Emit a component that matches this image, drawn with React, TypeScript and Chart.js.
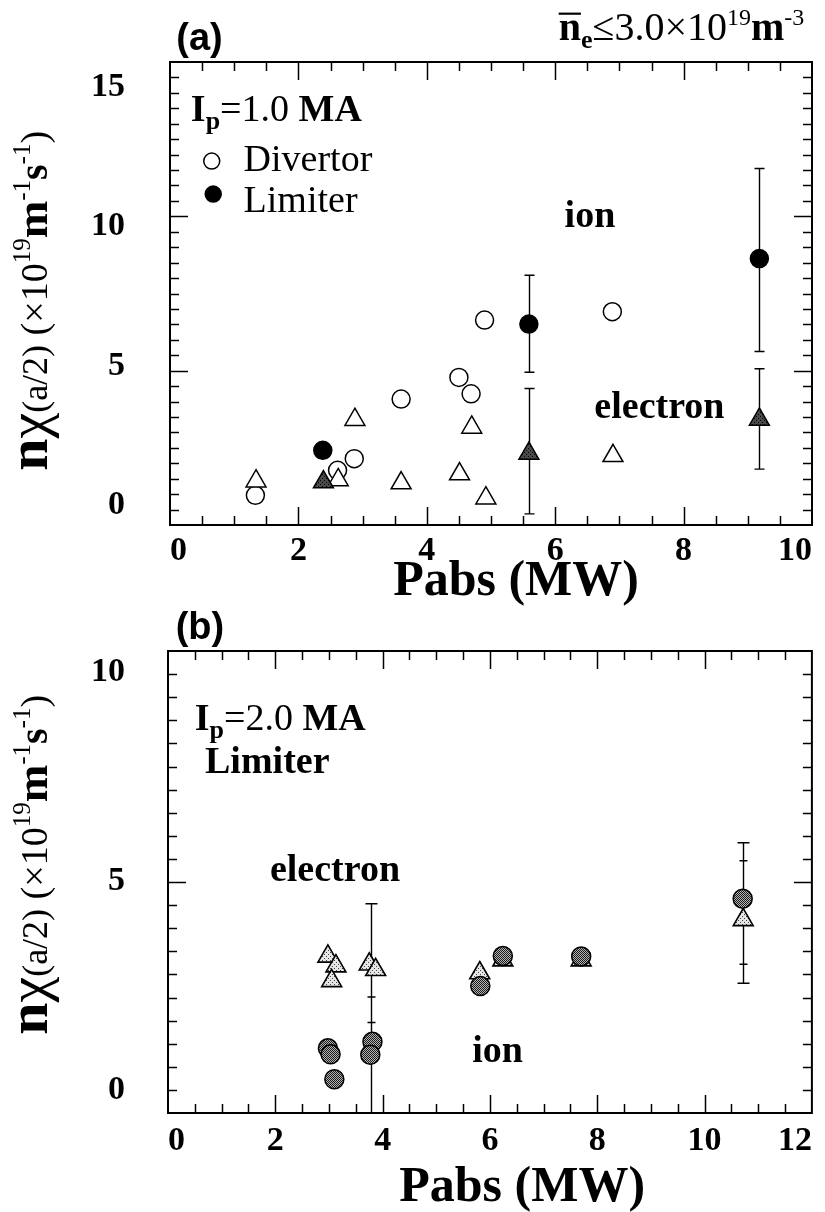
import React, { useEffect, useRef } from 'react';
import { Chart, registerables } from 'chart.js';

Chart.register(...registerables);

// ---------- Panel (a) data ----------
const aDivIonX = [1.33, 2.61, 2.87, 3.6, 4.5, 4.69, 4.9, 6.89];
const aDivIonY = [0.96, 1.77, 2.15, 4.08, 4.78, 4.25, 6.64, 6.91];
const aLimIonX = [2.38, 5.59, 9.18];
const aLimIonY = [2.42, 6.51, 8.63];
const aDivEleX = [1.34, 2.62, 2.88, 3.6, 4.51, 4.7, 4.92, 6.9];
const aDivEleY = [1.42, 1.46, 3.41, 1.36, 1.65, 3.16, 0.87, 2.24];
const aLimEleX = [2.39, 5.59, 9.18];
const aLimEleY = [1.39, 2.32, 3.42];
const aErrX = [5.59, 9.18, 5.59, 9.18];
const aErrLo = [4.95, 5.62, 0.36, 1.81];
const aErrHi = [8.09, 11.55, 4.42, 5.06];
const aXTicks = [0, 2, 4, 6, 8, 10];
const aYTicks = [0, 5, 10, 15];

// ---------- Panel (b) data ----------
const bIonX = [2.98, 3.03, 3.1, 3.81, 3.77, 5.82, 6.24, 7.7, 10.71];
const bIonY = [1.4, 1.27, 0.73, 1.54, 1.26, 2.75, 3.4, 3.39, 4.64];
const bEleX = [2.98, 3.13, 3.05, 3.75, 3.87, 5.81, 6.24, 7.7, 10.72];
const bEleY = [3.39, 3.18, 2.86, 3.22, 3.1, 3.03, 3.31, 3.31, 4.18];
const bErrBigX = [3.79, 10.71];
const bErrBigLo = [0, 2.81];
const bErrBigHi = [4.53, 5.85];
const bErrSmallX = [3.79, 10.71];
const bErrSmallLo = [1.96, 3.22];
const bErrSmallHi = [2.51, 5.46];
const bXTicks = [0, 2, 4, 6, 8, 10, 12];
const bYTicks = [0, 5, 10];

const SERIF = '"Liberation Serif", "Times New Roman", serif';
const SANS = '"Liberation Sans", Arial, sans-serif';

const zip = (xs: number[], ys: number[]) => xs.map((x, i) => ({ x, y: ys[i] }));

type Run = { t: string; f: string; dy?: number; over?: boolean };
type Note = { x: number; y: number; runs: Run[]; align?: 'left' | 'center' | 'right'; rot?: boolean };
type Mark = { x: number; y: number; r: number; fill: string };

function makePattern(bg: string, fg: string, kind: 'hatch' | 'dots'): CanvasPattern | string {
  const c = document.createElement('canvas');
  c.width = 4;
  c.height = 4;
  const g = c.getContext('2d');
  if (!g) return bg;
  g.fillStyle = bg;
  g.fillRect(0, 0, 4, 4);
  g.fillStyle = fg;
  if (kind === 'hatch') {
    for (let i = 0; i < 4; i++) {
      g.fillRect(i, i, 1, 1);
      g.fillRect((i + 2) % 4, i, 1, 1);
    }
  } else {
    g.fillRect(0, 0, 1, 1);
    g.fillRect(2, 2, 1, 1);
  }
  return g.createPattern(c, 'repeat') || bg;
}

function framePlugin(cfg: { xMinor: number; xMajor: number; yMinor: number; yMajor: number; major: number; minor: number }) {
  return {
    id: 'frameTicks',
    beforeDatasetsDraw(chart: any) {
      const { ctx, chartArea: a, scales } = chart;
      const xs = scales.x;
      const ys = scales.y;
      ctx.save();
      ctx.strokeStyle = '#000';
      ctx.lineWidth = 1.5;
      ctx.beginPath();
      const nx = Math.round((xs.max - xs.min) / cfg.xMinor);
      for (let i = 1; i < nx; i++) {
        const v = xs.min + i * cfg.xMinor;
        const maj = Math.abs(v / cfg.xMajor - Math.round(v / cfg.xMajor)) < 1e-6;
        const L = maj ? cfg.major : cfg.minor;
        const p = Math.round(xs.getPixelForValue(v)) + 0.5;
        ctx.moveTo(p, a.bottom);
        ctx.lineTo(p, a.bottom - L);
        ctx.moveTo(p, a.top);
        ctx.lineTo(p, a.top + L);
      }
      const ny = Math.round((ys.max - ys.min) / cfg.yMinor);
      for (let i = 1; i < ny; i++) {
        const v = ys.min + i * cfg.yMinor;
        const maj = Math.abs(v / cfg.yMajor - Math.round(v / cfg.yMajor)) < 1e-6;
        const L = maj ? cfg.major : cfg.minor;
        const p = Math.round(ys.getPixelForValue(v)) + 0.5;
        ctx.moveTo(a.left, p);
        ctx.lineTo(a.left + L, p);
        ctx.moveTo(a.right, p);
        ctx.lineTo(a.right - L, p);
      }
      ctx.stroke();
      ctx.lineWidth = 2;
      ctx.strokeRect(a.left, a.top, a.right - a.left, a.bottom - a.top);
      ctx.restore();
    },
  };
}

function errorPlugin(groups: { x: number[]; lo: number[]; hi: number[]; cap: number }[]) {
  return {
    id: 'errBars',
    beforeDatasetsDraw(chart: any) {
      const { ctx, chartArea: a, scales } = chart;
      ctx.save();
      ctx.beginPath();
      ctx.rect(a.left, a.top, a.right - a.left, a.bottom - a.top);
      ctx.clip();
      ctx.strokeStyle = '#000';
      ctx.lineWidth = 1.4;
      ctx.beginPath();
      groups.forEach((g) => {
        g.x.forEach((xv, i) => {
          const px = Math.round(scales.x.getPixelForValue(xv)) + 0.5;
          const pl = scales.y.getPixelForValue(g.lo[i]);
          const ph = scales.y.getPixelForValue(g.hi[i]);
          ctx.moveTo(px, pl);
          ctx.lineTo(px, ph);
          ctx.moveTo(px - g.cap, pl);
          ctx.lineTo(px + g.cap, pl);
          ctx.moveTo(px - g.cap, ph);
          ctx.lineTo(px + g.cap, ph);
        });
      });
      ctx.stroke();
      ctx.restore();
    },
  };
}

function notesPlugin(notes: Note[], marks: Mark[]) {
  return {
    id: 'notes',
    afterDraw(chart: any) {
      const { ctx, scales } = chart;
      ctx.save();
      ctx.fillStyle = '#000';
      ctx.strokeStyle = '#000';
      marks.forEach((m) => {
        const px = scales.x.getPixelForValue(m.x);
        const py = scales.y.getPixelForValue(m.y);
        ctx.beginPath();
        ctx.arc(px, py, m.r, 0, Math.PI * 2);
        ctx.fillStyle = m.fill;
        ctx.fill();
        ctx.lineWidth = 1.5;
        ctx.stroke();
      });
      ctx.fillStyle = '#000';
      ctx.textBaseline = 'alphabetic';
      ctx.textAlign = 'left';
      notes.forEach((n) => {
        const px = scales.x.getPixelForValue(n.x);
        const py = scales.y.getPixelForValue(n.y);
        ctx.save();
        ctx.translate(px, py);
        if (n.rot) ctx.rotate(-Math.PI / 2);
        let total = 0;
        n.runs.forEach((r) => {
          ctx.font = r.f;
          total += ctx.measureText(r.t).width;
        });
        let cx = n.align === 'center' ? -total / 2 : n.align === 'right' ? -total : 0;
        n.runs.forEach((r) => {
          ctx.font = r.f;
          const w = ctx.measureText(r.t).width;
          ctx.fillText(r.t, cx, r.dy || 0);
          if (r.over) {
            const size = parseFloat(r.f.replace(/^[^0-9]*/, ''));
            ctx.lineWidth = 2.2;
            ctx.beginPath();
            ctx.moveTo(cx, -size * 0.66);
            ctx.lineTo(cx + w, -size * 0.66);
            ctx.stroke();
          }
          cx += w;
        });
        ctx.restore();
      });
      ctx.restore();
    },
  };
}

const tickFont = { family: SERIF, size: 34, weight: 'bold' as const };

function baseOptions(opts: {
  xMax: number;
  yMax: number;
  xTicks: number[];
  yTicks: number[];
  ylMin: number;
  ylMax: number;
  yAxisWidth: number;
  labelPad: number;
  xHeight: number;
  padTop: number;
  padRight: number;
  xLabelPad: number;
}) {
  return {
    responsive: false,
    animation: false as const,
    events: [],
    layout: { padding: { top: opts.padTop, right: opts.padRight, left: 0, bottom: 0 } },
    plugins: { legend: { display: false }, tooltip: { enabled: false } },
    scales: {
      x: {
        type: 'linear' as const,
        min: 0,
        max: opts.xMax,
        position: 'bottom' as const,
        grid: { display: false, drawTicks: false },
        border: { display: false },
        ticks: { font: tickFont, color: '#000', padding: opts.xLabelPad, align: 'inner' as const, maxRotation: 0, autoSkip: false },
        afterBuildTicks: (s: any) => {
          s.ticks = opts.xTicks.map((v) => ({ value: v }));
        },
        afterFit: (s: any) => {
          s.height = opts.xHeight;
          s.paddingLeft = 0;
          s.paddingRight = 0;
        },
        title: { display: false },
      },
      y: { type: 'linear' as const, display: false, min: 0, max: opts.yMax },
      yl: {
        type: 'linear' as const,
        position: 'left' as const,
        min: opts.ylMin,
        max: opts.ylMax,
        grid: { display: false, drawTicks: false },
        border: { display: false },
        ticks: { font: tickFont, color: '#000', padding: opts.labelPad, autoSkip: false },
        afterBuildTicks: (s: any) => {
          s.ticks = opts.yTicks.map((v) => ({ value: v }));
        },
        afterFit: (s: any) => {
          s.width = opts.yAxisWidth;
          s.paddingTop = 0;
          s.paddingBottom = 0;
        },
      },
    },
  };
}

const R = (s: number) => `${s}px ${SERIF}`;
const B = (s: number) => `bold ${s}px ${SERIF}`;

function yTitleRuns(): Run[] {
  return [
    { t: 'n', f: B(58) },
    { t: 'χ', f: R(58) },
    { t: '(a/2)', f: R(36) },
    { t: ' (×10', f: R(38) },
    { t: '19', f: R(25), dy: -17 },
    { t: 'm', f: B(45) },
    { t: '-1', f: R(25), dy: -17 },
    { t: 's', f: B(40) },
    { t: '-1', f: R(25), dy: -17 },
    { t: ')', f: R(38) },
  ];
}

export default function App() {
  const refA = useRef<HTMLCanvasElement>(null);
  const refB = useRef<HTMLCanvasElement>(null);

  useEffect(() => {
    if (!refA.current || !refB.current) return;
    const darkTri = makePattern('#4a4a4a', '#000', 'dots');
    const hatch = makePattern('#b4b4b4', '#1a1a1a', 'hatch');
    const dotTri = makePattern('#e6e6e6', '#444', 'dots');

    const notesA: Note[] = [
      { x: 0.46, y: 15.39, align: 'center', runs: [{ t: '(a)', f: `bold 38px ${SANS}` }] },
      {
        x: 9.88,
        y: 15.71,
        align: 'right',
        runs: [
          { t: 'n', f: B(40), over: true },
          { t: 'e', f: B(26), dy: 8 },
          { t: '≤3.0×10', f: R(40) },
          { t: '19', f: R(24), dy: -15 },
          { t: 'm', f: B(40) },
          { t: '-3', f: R(24), dy: -15 },
        ],
      },
      {
        x: 0.325,
        y: 13.09,
        runs: [
          { t: 'I', f: B(38) },
          { t: 'p', f: B(26), dy: 8 },
          { t: '=1.0 ', f: R(38) },
          { t: 'MA', f: B(38) },
        ],
      },
      { x: 1.146, y: 11.47, runs: [{ t: 'Divertor', f: R(38) }] },
      { x: 1.146, y: 10.14, runs: [{ t: 'Limiter', f: R(38) }] },
      { x: 6.146, y: 9.65, runs: [{ t: 'ion', f: B(38) }] },
      { x: 6.61, y: 3.47, runs: [{ t: 'electron', f: B(38) }] },
      { x: -1.92, y: 7.26, rot: true, align: 'center', runs: yTitleRuns() },
      { x: 5.39, y: -2.27, align: 'center', runs: [{ t: 'Pabs (MW)', f: B(50) }] },
    ];
    const marksA: Mark[] = [
      { x: 0.65, y: 11.79, r: 8, fill: '#fff' },
      { x: 0.673, y: 10.72, r: 8, fill: '#000' },
    ];

    const chartA = new Chart(refA.current, {
      type: 'scatter',
      data: {
        datasets: [
          {
            label: 'Limiter electron',
            data: zip(aLimEleX, aLimEleY),
            pointStyle: 'triangle',
            pointRadius: 11.5,
            pointBackgroundColor: darkTri as any,
            pointBorderColor: '#000',
            pointBorderWidth: 1.5,
            yAxisID: 'y',
          },
          {
            label: 'Limiter ion',
            data: zip(aLimIonX, aLimIonY),
            pointStyle: 'circle',
            pointRadius: 9,
            pointBackgroundColor: '#000',
            pointBorderColor: '#000',
            pointBorderWidth: 1.5,
            yAxisID: 'y',
          },
          {
            label: 'Divertor electron',
            data: zip(aDivEleX, aDivEleY),
            pointStyle: 'triangle',
            pointRadius: 11.5,
            pointBackgroundColor: '#fff',
            pointBorderColor: '#000',
            pointBorderWidth: 1.5,
            yAxisID: 'y',
          },
          {
            label: 'Divertor ion',
            data: zip(aDivIonX, aDivIonY),
            pointStyle: 'circle',
            pointRadius: 9,
            pointBackgroundColor: '#fff',
            pointBorderColor: '#000',
            pointBorderWidth: 1.5,
            yAxisID: 'y',
          },
        ],
      },
      options: baseOptions({
        xMax: 10,
        yMax: 15,
        xTicks: aXTicks,
        yTicks: aYTicks,
        ylMin: -0.715,
        ylMax: 15.91,
        yAxisWidth: 170,
        labelPad: 45,
        xHeight: 85,
        padTop: 62,
        padRight: 9,
        xLabelPad: 6,
      }) as any,
      plugins: [
        framePlugin({ xMinor: 0.5, xMajor: 2, yMinor: 0.5, yMajor: 5, major: 18, minor: 9 }),
        errorPlugin([{ x: aErrX, lo: aErrLo, hi: aErrHi, cap: 5 }]),
        notesPlugin(notesA, marksA),
      ],
    });

    const notesB: Note[] = [
      { x: 0.595, y: 10.26, align: 'center', runs: [{ t: '(b)', f: `bold 38px ${SANS}` }] },
      {
        x: 0.5,
        y: 8.29,
        runs: [
          { t: 'I', f: B(38) },
          { t: 'p', f: B(26), dy: 8 },
          { t: '=2.0 ', f: R(38) },
          { t: 'MA', f: B(38) },
        ],
      },
      { x: 0.69, y: 7.36, runs: [{ t: 'Limiter', f: B(38) }] },
      { x: 1.9, y: 5.02, runs: [{ t: 'electron', f: B(38) }] },
      { x: 5.67, y: 1.1, runs: [{ t: 'ion', f: B(38) }] },
      { x: -2.25, y: 5.37, rot: true, align: 'center', runs: yTitleRuns() },
      { x: 6.6, y: -1.9, align: 'center', runs: [{ t: 'Pabs (MW)', f: B(50) }] },
    ];

    const chartB = new Chart(refB.current, {
      type: 'scatter',
      data: {
        datasets: [
          {
            label: 'ion',
            data: zip(bIonX, bIonY),
            pointStyle: 'circle',
            pointRadius: 9.5,
            pointBackgroundColor: hatch as any,
            pointBorderColor: '#000',
            pointBorderWidth: 1.5,
            yAxisID: 'y',
          },
          {
            label: 'electron',
            data: zip(bEleX, bEleY),
            pointStyle: 'triangle',
            pointRadius: 11.5,
            pointBackgroundColor: dotTri as any,
            pointBorderColor: '#000',
            pointBorderWidth: 1.6,
            yAxisID: 'y',
          },
        ],
      },
      options: baseOptions({
        xMax: 12,
        yMax: 10,
        xTicks: bXTicks,
        yTicks: bYTicks,
        ylMin: -0.538,
        ylMax: 10.51,
        yAxisWidth: 168,
        labelPad: 43,
        xHeight: 99,
        padTop: 41,
        padRight: 12,
        xLabelPad: 8,
      }) as any,
      plugins: [
        framePlugin({ xMinor: 0.5, xMajor: 2, yMinor: 0.5, yMajor: 5, major: 18, minor: 9 }),
        errorPlugin([
          { x: bErrBigX, lo: bErrBigLo, hi: bErrBigHi, cap: 6 },
          { x: bErrSmallX, lo: bErrSmallLo, hi: bErrSmallHi, cap: 4 },
        ]),
        notesPlugin(notesB, []),
      ],
    });

    return () => {
      chartA.destroy();
      chartB.destroy();
    };
  }, []);

  return (
    <div style={{ position: 'relative', width: 825, height: 1212, background: '#fff', overflow: 'hidden' }}>
      <style>{'html,body{margin:0;padding:0;overflow:hidden;background:#fff}'}</style>
      <canvas ref={refA} width={825} height={610} style={{ position: 'absolute', left: 0, top: 0 }} />
      <canvas ref={refB} width={825} height={602} style={{ position: 'absolute', left: 0, top: 610 }} />
    </div>
  );
}
